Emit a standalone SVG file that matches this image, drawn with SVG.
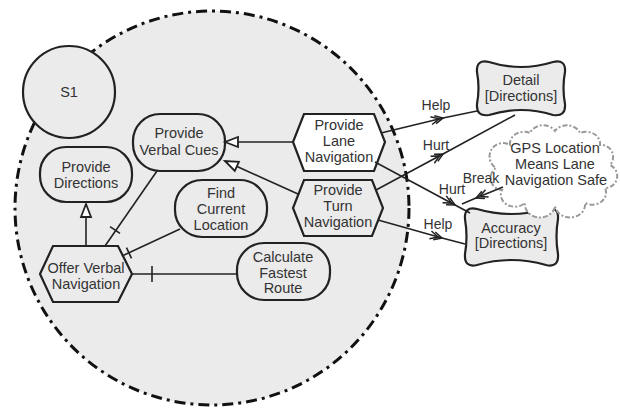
<svg xmlns="http://www.w3.org/2000/svg" width="620" height="410" viewBox="0 0 620 410">
<style>
text{font-family:"Liberation Sans",Arial,sans-serif;font-size:14.5px;fill:#333;text-anchor:middle}
.n{fill:#ebebeb;stroke:#222;stroke-width:2.2}
.w{fill:#fff;stroke:#222;stroke-width:2.2}
.c{fill:none;stroke:#222;stroke-width:1.6}
.lbl{font-size:14px}
</style>
<defs>
<marker id="tri" markerUnits="userSpaceOnUse" orient="auto" overflow="visible" refX="0" refY="0" markerWidth="14" markerHeight="12">
<path d="M0,0 L-13,-5 L-13,5 Z" fill="#fff" stroke="#222" stroke-width="1.8"/>
</marker>
<marker id="chev" markerUnits="userSpaceOnUse" orient="auto" overflow="visible" refX="0" refY="0" markerWidth="14" markerHeight="12">
<path d="M-8,-4 L0,0 L-8,4 M-12,-4 L-4,0 L-12,4" fill="none" stroke="#222" stroke-width="1.5"/>
</marker>
</defs>
<rect width="620" height="410" fill="#fff"/>
<g id="boundary">
<circle cx="212" cy="208" r="197" fill="#ebebeb" stroke="#111" stroke-width="3" stroke-dasharray="11 5 3 5"/>
</g>
<g id="S1">
<circle cx="69" cy="92" r="46" class="n"/>
<text x="69" y="97">S1</text>
</g>
<g id="provide-directions">
<rect x="40" y="147" width="92" height="55" rx="26" class="n"/>
<text x="86" y="172">Provide</text>
<text x="86" y="188">Directions</text>
</g>
<g id="provide-verbal-cues">
<rect x="133" y="114" width="92" height="57" rx="27" class="n"/>
<text x="179" y="138">Provide</text>
<text x="179" y="155">Verbal Cues</text>
</g>
<g id="find-current-location">
<rect x="175" y="180" width="92" height="57" rx="27" class="n"/>
<text x="221" y="198">Find</text>
<text x="221" y="214">Current</text>
<text x="221" y="230">Location</text>
</g>
<g id="calculate-fastest-route">
<rect x="237" y="243" width="93" height="57" rx="27" class="n"/>
<text x="283" y="262">Calculate</text>
<text x="283" y="278">Fastest</text>
<text x="283" y="293">Route</text>
</g>
<g id="offer-verbal-navigation">
<polygon points="53,246 118,246 132,274 118,302 53,302 40,274" class="n"/>
<text x="86" y="273">Offer Verbal</text>
<text x="86" y="289">Navigation</text>
</g>
<g id="provide-lane-navigation">
<polygon points="304,114 374,114 385,142 374,171 304,171 293,142" class="w"/>
<text x="339" y="130">Provide</text>
<text x="339" y="146">Lane</text>
<text x="339" y="162">Navigation</text>
</g>
<g id="provide-turn-navigation">
<polygon points="304,180 372,180 383,208 372,236 304,236 293,208" class="n"/>
<text x="338" y="195">Provide</text>
<text x="338" y="211">Turn</text>
<text x="338" y="227">Navigation</text>
</g>
<g id="detail-directions">
<path class="n" stroke-width="2.6" d="M489,62 Q521,72 553,62 Q566,59 565,72 Q562,88 565,104 Q566,117 553,115 Q521,105 489,115 Q476,117 477,104 Q480,88 477,72 Q476,59 489,62 Z"/>
<text x="521" y="85">Detail</text>
<text x="521" y="101">[Directions]</text>
</g>
<g id="accuracy-directions">
<path class="n" stroke-width="2.6" d="M477,209 Q511,219 546,209 Q559,206 558,219 Q555,237 558,254 Q559,268 546,265 Q511,255 477,265 Q464,268 465,254 Q468,237 465,219 Q464,206 477,209 Z"/>
<text x="511" y="233">Accuracy</text>
<text x="511" y="248">[Directions]</text>
</g>
<g id="gps-claim">
<path fill="#fff" stroke="#999" stroke-width="2" stroke-dasharray="5 2 2 2" d="M510,145 A14,12 0 0 1 530,133 A14,12 0 0 1 555,131 A14,12 0 0 1 580,133 A14,12 0 0 1 600,145 A12,12 0 0 1 610,165 A12,12 0 0 1 605,188 A14,12 0 0 1 585,203 A14,12 0 0 1 555,206 A14,12 0 0 1 525,203 A14,12 0 0 1 502,190 A12,12 0 0 1 496,168 A12,12 0 0 1 510,145 Z"/>
<text x="555" y="153">GPS Location</text>
<text x="555" y="169">Means Lane</text>
<text x="556" y="185">Navigation Safe</text>
</g>
<g id="connectors">
<path class="c" d="M293,142 L225,142" marker-end="url(#tri)"/>
<path class="c" d="M298,194 L225,161" marker-end="url(#tri)"/>
<path class="c" d="M86,246 L86,204" marker-end="url(#tri)"/>
<path class="c" d="M105,246 L157,171"/>
<path class="c" d="M110,226.6 L120,233.4"/>
<path class="c" d="M122,256 L180,229"/>
<path class="c" d="M126.5,247.6 L131.5,258.4"/>
<path class="c" d="M132,274 L237,274"/>
<path class="c" d="M152,266 L152,282"/>
<path class="c" d="M381,133 L443,118 L477,111" marker-mid="url(#chev)"/>
<path class="c" d="M376,190 L443,154 L515,115" marker-mid="url(#chev)"/>
<path class="c" d="M375,162 L455,205 L470,213" marker-mid="url(#chev)"/>
<path class="c" d="M503,187 L476,198 L462,204" marker-mid="url(#chev)"/>
<path class="c" d="M378,220 L442,238 L465,244" marker-mid="url(#chev)"/>
<text class="lbl" x="436" y="110">Help</text>
<text class="lbl" x="436" y="150">Hurt</text>
<text class="lbl" x="481" y="183">Break</text>
<text class="lbl" x="452" y="194">Hurt</text>
<text class="lbl" x="438" y="229">Help</text>
</g>
</svg>
